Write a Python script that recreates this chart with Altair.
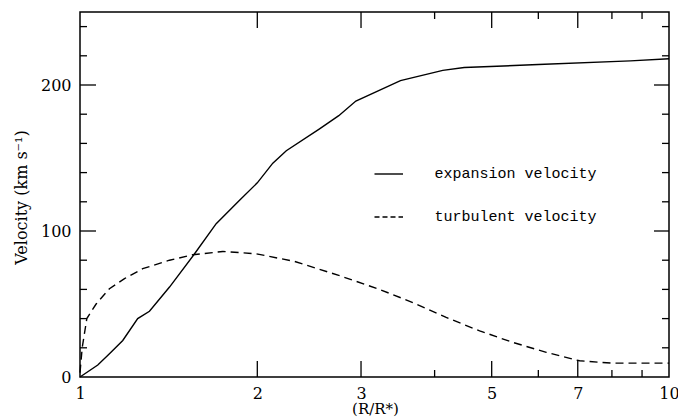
import altair as alt
import pandas as pd

# --- data ---
exp_r = [1.0, 1.072, 1.122, 1.182, 1.253, 1.312, 1.419, 1.565, 1.703, 1.866, 2.0, 2.125,
         2.24, 2.551, 2.75, 2.94, 3.5, 4.13, 4.49, 6.0, 8.6, 10.0]
exp_v = [0, 8.2, 16, 25, 40, 45, 61.6, 84.4, 105, 121, 133, 146.5,
         155, 170, 179, 189, 203, 210, 212, 214, 216.5, 218]

turb_r = [1.0, 1.0086, 1.027, 1.065, 1.122, 1.19, 1.278, 1.419, 1.554, 1.748, 1.99, 2.313,
          2.75, 3.225, 3.673, 4.185, 4.77, 5.43, 6.19, 7.05, 8.0, 10.0]
turb_v = [3, 20, 40, 50, 60.5, 67.4, 74.2, 80, 83.7, 86, 84.4, 79.2,
          69.6, 60, 51, 40.8, 31.6, 23.7, 16.9, 11.1, 9.5, 9.5]

x_labels = [1, 2, 3, 5, 7, 10]
x_major_ticks = [2, 3, 5, 7]
x_minor_ticks = [4, 6, 8, 9]
y_labels = [0, 100, 200]
y_major_ticks = [100, 200]
y_minor_ticks = [20, 40, 60, 80, 120, 140, 160, 180, 220, 240]

legend_labels = ["expansion velocity", "turbulent velocity"]

W, H = 589, 365
SERIF = "DejaVu Serif"
MONO = "Liberation Mono"

xs = alt.Scale(type="log", domain=[1, 10], nice=False)
ys = alt.Scale(domain=[0, 250], nice=False, zero=False)

exp_df = pd.DataFrame({"r": exp_r, "v": exp_v})
turb_df = pd.DataFrame({"r": turb_r, "v": turb_v})

x_axis = alt.Axis(values=x_labels, ticks=False, tickSize=0, domain=False, grid=False,
                  labelFont=SERIF, labelFontSize=16, labelColor="black", labelPadding=8,
                  labelFlush=False, labelOverlap=False,
                  title="(R/R*)", titleFont=SERIF, titleFontSize=15, titleFontWeight="normal",
                  titleColor="black", titleX=295, titleY=36, titleBaseline="alphabetic",
                  titleAlign="center")
y_axis = alt.Axis(values=y_labels, ticks=False, tickSize=0, domain=False, grid=False,
                  labelFont=SERIF, labelFontSize=16, labelColor="black", labelPadding=9,
                  labelFlush=False, labelOverlap=False,
                  title="Velocity (km s⁻¹)", titleFont=SERIF, titleFontSize=16,
                  titleFontWeight="normal", titleColor="black", titleAngle=-90,
                  titleX=-59, titleY=185, titleAlign="center", titleBaseline="middle")

exp_line = alt.Chart(exp_df).mark_line(color="black", strokeWidth=1.4).encode(
    x=alt.X("r:Q", scale=xs, axis=x_axis),
    y=alt.Y("v:Q", scale=ys, axis=y_axis),
)
turb_line = alt.Chart(turb_df).mark_line(color="black", strokeWidth=1.4, strokeDash=[8, 5]).encode(
    x=alt.X("r:Q", scale=xs),
    y=alt.Y("v:Q", scale=ys),
)

def xticks(vals, y, y2):
    return alt.Chart(pd.DataFrame({"t": vals})).mark_rule(color="black", strokeWidth=1.3).encode(
        x=alt.X("t:Q", scale=xs), y=alt.value(y), y2=alt.value(y2))

def yticks(vals, x, x2):
    return alt.Chart(pd.DataFrame({"t": vals})).mark_rule(color="black", strokeWidth=1.3).encode(
        y=alt.Y("t:Q", scale=ys), x=alt.value(x), x2=alt.value(x2))

ticks = [
    xticks(x_major_ticks, H, H - 16), xticks(x_minor_ticks, H, H - 7),
    xticks(x_major_ticks, 0, 16), xticks(x_minor_ticks, 0, 7),
    yticks(y_major_ticks, 0, 16), yticks(y_minor_ticks, 0, 7),
    yticks(y_major_ticks, W, W - 15), yticks(y_minor_ticks, W, W - 7),
]

leg_df = pd.DataFrame({"label": legend_labels})
leg_solid = alt.Chart(leg_df.iloc[[0]]).mark_rule(color="black", strokeWidth=1.4).encode(
    x=alt.value(294.5), x2=alt.value(323), y=alt.value(162))
leg_dash = alt.Chart(leg_df.iloc[[1]]).mark_rule(color="black", strokeWidth=1.4, strokeDash=[5, 3]).encode(
    x=alt.value(294.5), x2=alt.value(323), y=alt.value(205))
leg_text1 = alt.Chart(leg_df.iloc[[0]]).mark_text(font=MONO, fontSize=15, align="left",
                                                  baseline="middle", color="black").encode(
    x=alt.value(354.5), y=alt.value(161), text="label:N")
leg_text2 = alt.Chart(leg_df.iloc[[1]]).mark_text(font=MONO, fontSize=15, align="left",
                                                  baseline="middle", color="black").encode(
    x=alt.value(354.5), y=alt.value(204), text="label:N")

chart = alt.layer(exp_line, turb_line, *ticks, leg_solid, leg_dash, leg_text1, leg_text2).properties(
    width=W, height=H,
    autosize=alt.AutoSizeParams(type="none"),
    padding={"left": 80, "top": 12, "right": 9, "bottom": 40},
    background="white",
).configure_view(stroke="black", strokeWidth=1.5)

chart.save("out.html", embed_options={"renderer": "svg", "actions": False})
